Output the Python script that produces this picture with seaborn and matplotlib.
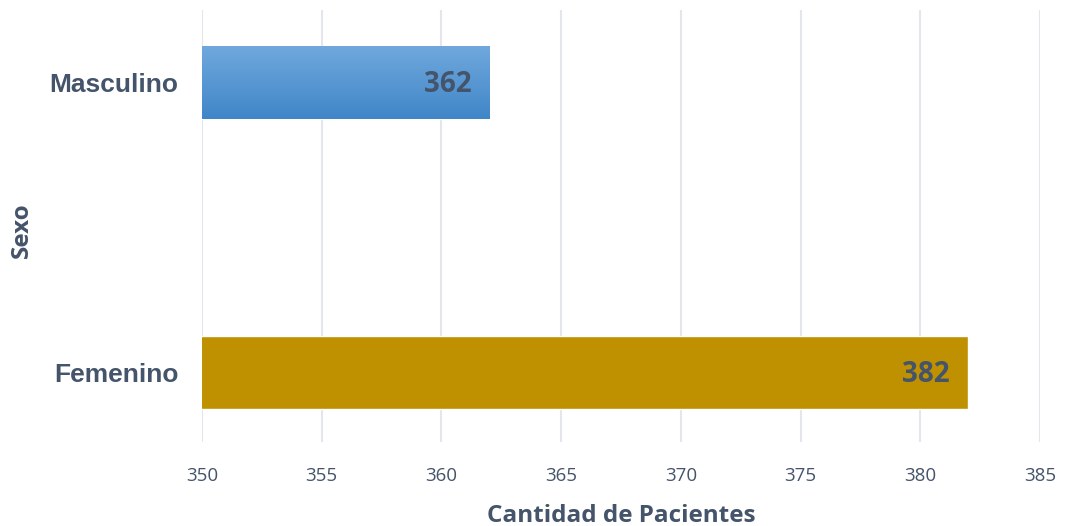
import numpy as np
import pandas as pd
import matplotlib
matplotlib.use("Agg")
import matplotlib.pyplot as plt
import seaborn as sns

# Data
categories = ["Masculino", "Femenino"]
values = [362, 382]
x_ticks = [350, 355, 360, 365, 370, 375, 380, 385]
x_label = "Cantidad de Pacientes"
y_label = "Sexo"

sns.set_theme(style="white")
plt.rcParams["font.family"] = ["Open Sans", "DejaVu Sans"]

text_color = "#44546A"
bar_colors = {"Masculino": "#4A8DD2", "Femenino": "#BF9000"}

df = pd.DataFrame({"Sexo": categories, "Pacientes": values})

fig = plt.figure(figsize=(10.66, 5.26), dpi=100)
ax = fig.add_axes([0.1895, 0.16, 0.7861, 0.821])

sns.barplot(data=df, y="Sexo", x="Pacientes", hue="Sexo", palette=bar_colors,
            orient="h", width=0.25, ax=ax, legend=False, saturation=1.0,
            zorder=3)

xlim = (x_ticks[0], x_ticks[-1])
ylim = (1.24, -0.25)
ax.set_xlim(*xlim)
ax.set_ylim(*ylim)
ax.set_xticks(x_ticks)
ax.set_xticklabels([str(t) for t in x_ticks], fontsize=13.5, color=text_color)
ax.set_yticks(range(len(categories)))
ax.set_yticklabels(categories, fontfamily=["Liberation Sans", "DejaVu Sans"],
                   fontweight="bold", fontsize=19, color=text_color)
ax.tick_params(axis="x", length=0, pad=18)
ax.tick_params(axis="y", length=0, pad=17)

ax.xaxis.grid(True, color="#E3E6EC", linewidth=1.5, zorder=0)
ax.set_axisbelow(True)
for s in ax.spines.values():
    s.set_visible(False)

ax.set_xlabel("")
ax.set_ylabel("")
fig.text(621 / 1066, 1 - 516 / 526, x_label, fontsize=17.5, fontweight="bold",
         color=text_color, ha="center", va="center")
fig.text(22 / 1066, 1 - 230 / 526, y_label, fontsize=17.5, fontweight="bold",
         color=text_color, ha="center", va="center", rotation=90)

# Gradient on blue bar
for p, cat in zip(list(ax.patches), categories):
    if cat == "Masculino":
        y0, h = p.get_y(), p.get_height()
        x1 = p.get_x() + p.get_width()
        top = np.array([112, 168, 221]) / 255
        bot = np.array([64, 134, 200]) / 255
        t = np.linspace(0, 1, 100)[:, None]
        grad = (top * (1 - t) + bot * t)[:, None, :]
        im = ax.imshow(grad, extent=[xlim[0], x1, y0 + h, y0], aspect="auto",
                       zorder=4, interpolation="bilinear")
        ax.set_xlim(*xlim)
        ax.set_ylim(*ylim)

# Value labels
for i, v in enumerate(values):
    ax.annotate(str(v), xy=(v, i), xytext=(-13, -1.5), textcoords="offset points",
                ha="right", va="center", fontsize=20, fontweight="bold",
                color=text_color, zorder=6)

fig.savefig("out.png", dpi=100)
